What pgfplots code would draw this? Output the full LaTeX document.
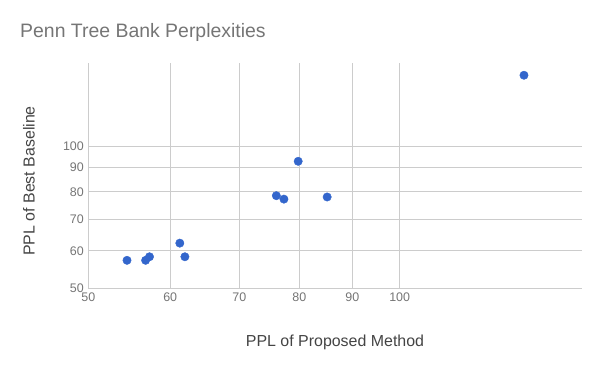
\documentclass[border=0pt]{standalone}
\usepackage{pgfplots}
\pgfplotsset{compat=1.18}
\usepackage{fontspec}
\setmainfont{Liberation Sans}
\definecolor{gridc}{HTML}{CCCCCC}
\definecolor{tickc}{HTML}{757575}
\definecolor{titlec}{HTML}{757575}
\definecolor{labc}{HTML}{444444}
\definecolor{dotc}{HTML}{3366CC}
\begin{document}
\begin{tikzpicture}[x=1bp,y=1bp]
\path[use as bounding box] (0,0) rectangle (600,371);
\begin{axis}[
  at={(88.3bp,82.7bp)}, anchor=south west,
  scale only axis, width=493.4bp, height=225.6bp,
  xmode=log, ymode=log,
  xmin=50, xmax=150, ymin=50, ymax=150,
  xtick={50,60,70,80,90,100}, xticklabels={50,60,70,80,90,100},
  ytick={50,60,70,80,90,100}, yticklabels={50,60,70,80,90,100},
  minor xtick={}, minor ytick={},
  grid=major, major grid style={draw=gridc, line width=0.8bp},
  axis line style={draw=none}, tick style={draw=none},
  ticklabel style={font=\fontsize{12.5}{14}\selectfont, text=tickc},
  xticklabel style={anchor=north, yshift=-1bp},
  yticklabel style={anchor=east, xshift=-1bp},
  clip=false,
]
\addplot[only marks, mark=*, mark size=4.2bp, color=dotc, mark options={draw=dotc, fill=dotc}] coordinates {
(54.5,57.3) (56.8,57.3) (57.3,58.3) (61.3,62.3) (62.0,58.3)
(76.0,78.5) (77.3,77.2) (79.8,92.8) (85.1,78.0) (131.9,141.1)
};
\end{axis}
\node[anchor=west, inner sep=0pt, text=titlec, font=\fontsize{19.5}{23}\selectfont] at (20,338.5) {Penn Tree Bank Perplexities};
\node[text=labc, font=\fontsize{16}{19}\selectfont] at (335,29) {PPL of Proposed Method};
\node[text=labc, font=\fontsize{16}{19}\selectfont, rotate=90] at (29,190) {PPL of Best Baseline};
\end{tikzpicture}
\end{document}
